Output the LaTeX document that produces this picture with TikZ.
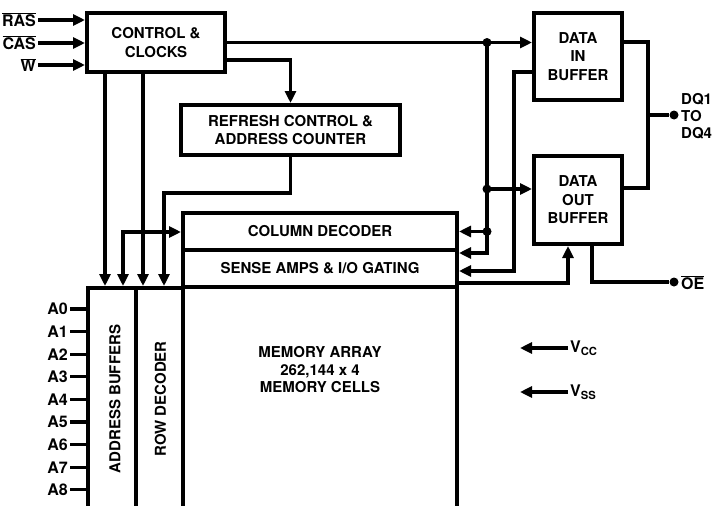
\documentclass[tikz,border=0pt]{standalone}
\usepackage{fontspec}
\setmainfont{TeX Gyre Heros}
\usetikzlibrary{arrows.meta,positioning,calc}

\begin{document}
\begin{tikzpicture}[
  x=1pt, y=-1pt,
  >={Triangle[length=12pt,width=11pt]},
  every node/.style={font=\fontsize{15}{18.5}\selectfont\bfseries},
  blk/.style={draw, rectangle, line width=4pt, align=center, inner sep=0pt},
  lbl/.style={inner sep=2pt, align=left, font=\fontsize{16}{17}\selectfont\bfseries},
  wire/.style={line width=3.2pt},
  dot/.style={circle, fill, inner sep=0pt, minimum size=9pt}
]
\useasboundingbox (0,0) rectangle (715,506);
\clip (0,0) rectangle (715,506);

% blocks
\node[blk, minimum width=138pt, minimum height=59pt] (ctrl)   at (156,42.5)  {CONTROL \&\\CLOCKS};
\node[blk, minimum width=219pt, minimum height=50pt] (refr)   at (290.5,130) {REFRESH CONTROL \&\\ADDRESS COUNTER};
\node[blk, minimum width=88pt,  minimum height=87pt] (din)    at (578,56.5)  {DATA\\IN\\BUFFER};
\node[blk, minimum width=88pt,  minimum height=88pt] (dout)   at (578,200)   {DATA\\OUT\\BUFFER};
\node[blk, minimum width=274pt, minimum height=37pt] (coldec) at (320,231.5) {COLUMN DECODER};
\node[blk, minimum width=274pt, minimum height=37pt] (sense)  at (320,268.5) {SENSE AMPS \& I/O GATING};
\node[blk, minimum width=274pt, minimum height=223pt] (memarr) at (320,398.5) {};
\node[blk, minimum width=48pt,  minimum height=222pt] (addrbuf) at (112,399) {\hspace{6pt}\rotatebox{90}{ADDRESS BUFFERS}};
\node[blk, minimum width=47pt,  minimum height=222pt] (rowdec)  at (159.5,399) {\hspace{2pt}\rotatebox{90}{ROW DECODER}};
\node[align=center, font=\fontsize{15}{17.5}\selectfont\bfseries] (memtxt) at (320,370)
  {MEMORY ARRAY\\262,144 x 4\\MEMORY CELLS};

% control inputs
\node[lbl, anchor=east] (ras) at (38,20) {$\overline{\mbox{RAS}}$};
\node[lbl, anchor=east] (cas) at (38,43) {$\overline{\mbox{CAS}}$};
\node[lbl, anchor=east] (w)   at (38,65) {$\overline{\mbox{W}}$};
\draw[wire,->] (ras.east) -- (ras.east -| ctrl.west);
\draw[wire,->] (cas.east) -- (cas.east -| ctrl.west);
\draw[wire,->] (w.east)   -- (w.east -| ctrl.west);

% address inputs
\foreach \i in {0,...,8}{
  \node[lbl, anchor=east] (a\i) at (70,{309+22.6*\i}) {A\i};
  \draw[wire] (a\i.east) -- (a\i.east -| addrbuf.west);
}

% clocks and refresh to address side
\coordinate (c1) at ($(ctrl.south west)+(20,0)$);
\coordinate (c2) at ($(ctrl.south west)+(58,0)$);
\coordinate (c3) at ($(ctrl.east)+(0,17.5)$);
\coordinate (k1) at (164,193);
\coordinate (k2) at (123,232);
\draw[wire,->] (c1) -- (c1 |- addrbuf.north);
\draw[wire,->] (c2) -- (c2 |- rowdec.north);
\draw[wire,->] (c3) -| (refr.north);
\draw[wire,->] (refr.south) |- (k1) -- (k1 |- rowdec.north);
\draw[wire,<->] (k2 |- addrbuf.north) -- (k2) -- (k2 -| coldec.west);

% data path
\node[dot] (j1) at (487,42.5) {};
\node[dot] (j2) at (487,189) {};
\node[dot] (j3) at (487,231.5) {};
\coordinate (b1) at (487,253);
\coordinate (b2) at (514,72);
\coordinate (b3) at (514,271);
\coordinate (b4) at (568,283);
\draw[wire,->] (ctrl.east) -- (ctrl.east -| din.west);
\draw[wire,->] (j1.center) -- (b1) -- (b1 -| sense.east);
\draw[wire,->] (j2.center) -- (j2 -| dout.west);
\draw[wire,->] (j3.center) -- (j3 -| coldec.east);
\draw[wire,->] (b2 -| din.west) -- (b2) -- (b3) -- (b3 -| sense.east);
\draw[wire,->] (b4 -| sense.east) -- (b4) -- (b4 |- dout.south);

% DQ and OE pins
\coordinate (b5) at (592,282);
\coordinate (b6) at (648,42);
\coordinate (b7) at (648,188);
\coordinate (b8) at (648,115);
\node[dot] (dqdot) at (674,115) {};
\node[dot] (oedot) at (674,282) {};
\node[lbl, anchor=west, font=\fontsize{15}{17}\selectfont\bfseries] (dq) at (679,116) {DQ1\\TO\\DQ4};
\node[lbl, anchor=west] (oe) at (679,283) {$\overline{\mbox{OE}}$};
\draw[wire] (b6 -| din.east) -- (b6) -- (b7) -- (b7 -| dout.east);
\draw[wire] (b8) -- (dqdot);
\draw[wire] (b5 |- dout.south) -- (b5) -- (oedot);

% supplies
\node[lbl, anchor=west] (vcc) at (568,348) {V\textsubscript{CC}};
\node[lbl, anchor=west] (vss) at (568,392) {V\textsubscript{SS}};
\coordinate (vtip) at (520,0);
\draw[wire,->] (vcc.west) -- (vcc.west -| vtip);
\draw[wire,->] (vss.west) -- (vss.west -| vtip);
\end{tikzpicture}
\end{document}
